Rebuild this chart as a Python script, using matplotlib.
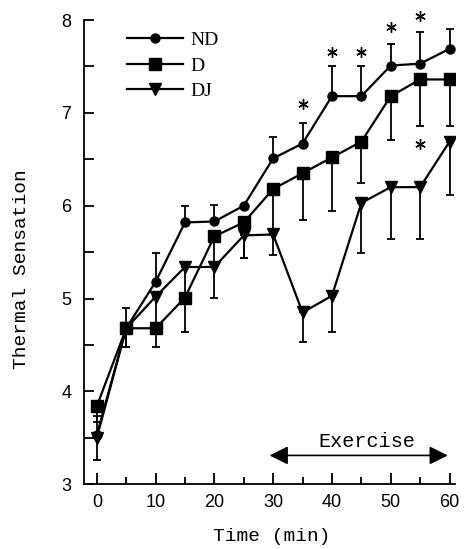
import numpy as np
import matplotlib
matplotlib.use("Agg")
import matplotlib.pyplot as plt
from matplotlib.ticker import MultipleLocator

time = [0, 5, 10, 15, 20, 25, 30, 35, 40, 45, 50, 55, 60]

nd = [3.53, 4.68, 5.18, 5.82, 5.83, 6.0, 6.51, 6.67, 7.18, 7.18, 7.51, 7.53, 7.69]
nd_err = [0.2, 0.22, 0.31, 0.18, 0.18, 0.0, 0.23, 0.22, 0.32, 0.32, 0.23, 0.34, 0.21]

d = [3.84, 4.68, 4.68, 5.01, 5.67, 5.82, 6.18, 6.35, 6.52, 6.69, 7.18, 7.36, 7.36]
d_err = [0.17, 0.2, 0.2, 0.37, 0.33, 0.38, 0.5, 0.5, 0.58, 0.44, 0.47, 0.5, 0.5]

dj = [3.5, 4.68, 5.02, 5.34, 5.34, 5.68, 5.69, 4.85, 5.03, 6.03, 6.2, 6.2, 6.69]
dj_err = [0.24, 0.2, 0.3, 0.33, 0.33, 0.24, 0.22, 0.32, 0.39, 0.54, 0.56, 0.56, 0.57]

# significance marks
star_x = [35, 40, 45, 50, 55, 55]
star_y = [7.1, 7.66, 7.66, 7.92, 8.04, 6.67]

mono = "Liberation Mono"
sans = "Liberation Sans"

fig = plt.figure(figsize=(4.66, 5.49), dpi=100)
ax = fig.add_axes([0.180, 0.118, 0.796, 0.8455])

zeros = np.zeros(len(time))
ekw = dict(ecolor="black", elinewidth=1.3, capsize=3, capthick=1.3, zorder=2)

ax.errorbar(time, nd, yerr=[zeros, nd_err], fmt="none", **ekw)
ax.errorbar(time, d, yerr=[d_err, zeros], fmt="none", **ekw)
ax.errorbar(time, dj, yerr=[dj_err, zeros], fmt="none", **ekw)

ax.plot(time, nd, "-o", color="black", lw=1.6, ms=6.5, label="ND", zorder=3)
ax.plot(time, d, "-s", color="black", lw=1.6, ms=8, label="D", zorder=3)
ax.plot(time, dj, "-v", color="black", lw=1.6, ms=8.5, label="DJ", zorder=3)

# asterisks: six-armed asterisk marker
ax.plot(star_x, star_y, ls="none", marker=(6, 2, 0), ms=7.5, mew=1.0,
        color="black", clip_on=False, zorder=4)

# exercise period
ax.annotate("", xy=(29.4, 3.31), xytext=(59.7, 3.31),
            arrowprops=dict(arrowstyle="<|-|>", color="black", lw=1.2,
                            mutation_scale=28, shrinkA=0, shrinkB=0))
ax.text(46, 3.46, "Exercise", ha="center", va="center", fontsize=14.5,
        family=mono)

ax.set_xlim(-2.2, 60.9)
ax.set_ylim(3, 8)
ax.xaxis.set_major_locator(MultipleLocator(10))
ax.xaxis.set_minor_locator(MultipleLocator(5))
ax.yaxis.set_major_locator(MultipleLocator(1))
ax.yaxis.set_minor_locator(MultipleLocator(0.5))

ax.spines["top"].set_visible(False)
ax.spines["right"].set_visible(False)
ax.spines["left"].set_linewidth(1.3)
ax.spines["bottom"].set_linewidth(1.3)

ax.tick_params(axis="x", which="major", direction="in", length=8, width=1.3, pad=7)
ax.tick_params(axis="x", which="minor", direction="in", length=5, width=1.3)
ax.tick_params(axis="y", which="major", direction="in", length=7, width=1.3, pad=9)
ax.tick_params(axis="y", which="minor", direction="in", length=7, width=1.3)
for lab in ax.get_xticklabels() + ax.get_yticklabels():
    lab.set_family(sans)
    lab.set_fontsize(13)

leg = ax.legend(loc="upper left", bbox_to_anchor=(0.116, 0.975), frameon=False,
                borderaxespad=0, borderpad=0, handlelength=2.9,
                handletextpad=0.35, labelspacing=0.4, numpoints=1,
                prop={"family": "Liberation Serif", "size": 14})

fig.text(0.047, 0.51, "Thermal Sensation", rotation=90, ha="center",
         va="center", fontsize=14, family=mono)
fig.text(0.583, 0.022, "Time (min)", ha="center", va="center",
         fontsize=14, family=mono)

fig.savefig("out.png", dpi=100)
